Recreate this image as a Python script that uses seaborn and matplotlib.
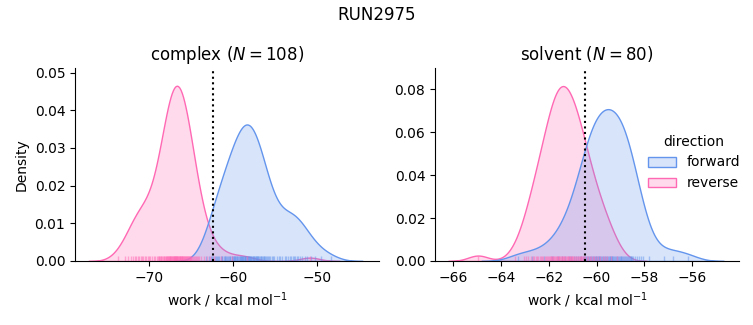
import matplotlib
matplotlib.use("Agg")
import matplotlib.pyplot as plt
import pandas as pd
import seaborn as sns

run_name = "RUN2975"
phases = ["complex", "solvent"]
directions = ["forward", "reverse"]
n_cycles = [108, 80]
estimates = [-62.4, -60.47]

complex_forward = [
    -63.2,
    -62.9, -62.7, -62.5, -62.4, -62.2, -62.05,
    -61.9, -61.8, -61.65, -61.5, -61.4, -61.3, -61.15, -61.0,
    -60.95, -60.85, -60.75, -60.65, -60.5, -60.45, -60.35, -60.2, -60.1, -60.0,
    -59.95, -59.9, -59.8, -59.75, -59.65, -59.6, -59.5, -59.4, -59.35, -59.25, -59.2, -59.1, -59.05,
    -58.98, -58.92, -58.85, -58.8, -58.72, -58.65, -58.6, -58.55, -58.48, -58.4, -58.35, -58.28,
    -58.2, -58.15, -58.08, -58.02,
    -57.98, -57.9, -57.85, -57.78, -57.7, -57.62, -57.55, -57.5, -57.42, -57.35, -57.3, -57.22,
    -57.15, -57.08, -57.02,
    -56.95, -56.85, -56.75, -56.68, -56.6, -56.5, -56.4, -56.3, -56.22, -56.12, -56.02,
    -55.9, -55.75, -55.6, -55.4, -55.25, -55.1,
    -54.85, -54.6, -54.4, -54.15,
    -53.9, -53.7, -53.5, -53.3, -53.1,
    -52.95, -52.8, -52.6, -52.45, -52.25, -52.05,
    -51.8, -51.5, -51.2,
    -50.8, -50.3,
    -49.6,
    -48.4,
]

complex_reverse = [
    -73.7,
    -72.85, -72.5, -72.15,
    -71.9, -71.75, -71.6, -71.4, -71.25, -71.05,
    -70.9, -70.75, -70.55, -70.4, -70.2, -70.05,
    -69.9, -69.7, -69.5, -69.3, -69.1,
    -68.95, -68.88, -68.8, -68.7, -68.62, -68.55, -68.45, -68.38, -68.3, -68.2, -68.12, -68.04,
    -67.98, -67.92, -67.86, -67.8, -67.75, -67.7, -67.64, -67.58, -67.52, -67.48,
    -67.42, -67.36, -67.3, -67.25, -67.2, -67.14, -67.1, -67.06, -67.03, -67.0,
    -66.97, -66.93, -66.88, -66.84, -66.8, -66.75, -66.7, -66.65, -66.6, -66.55, -66.5,
    -66.45, -66.4, -66.35, -66.3, -66.25, -66.2, -66.15, -66.1, -66.05, -66.01,
    -65.96, -65.9, -65.84, -65.78, -65.72, -65.66, -65.6, -65.54, -65.48, -65.42, -65.36,
    -65.3, -65.24, -65.18, -65.12, -65.06, -65.01,
    -64.9, -64.78, -64.65, -64.52, -64.4, -64.28, -64.15, -64.03,
    -63.85, -63.5, -63.15,
    -62.8, -62.3,
    -61.5,
    -60.1, -58.4, -50.9,
]

solvent_forward = [
    -63.3,
    -62.7,
    -62.2,
    -61.85, -61.6,
    -61.45, -61.3, -61.15, -61.05,
    -60.95, -60.86, -60.78, -60.7, -60.63, -60.57, -60.51,
    -60.48, -60.44, -60.4, -60.36, -60.32, -60.28, -60.24, -60.2, -60.16, -60.12, -60.08,
    -60.04, -60.01,
    -59.98, -59.95, -59.91, -59.88, -59.85, -59.81, -59.77, -59.73, -59.69, -59.65, -59.61,
    -59.57, -59.53,
    -59.49, -59.46, -59.43, -59.4, -59.37, -59.34, -59.31, -59.28, -59.22, -59.19, -59.15,
    -59.11, -59.07, -59.03,
    -58.99, -58.96, -58.92, -58.88, -58.85, -58.81, -58.77, -58.73, -58.69, -58.65, -58.61,
    -58.58, -58.55, -58.52,
    -58.46, -58.38, -58.3, -58.22, -58.14, -58.05,
    -57.8,
    -57.2,
    -56.8,
    -56.2,
]

solvent_reverse = [
    -64.95,
    -63.4, -63.05,
    -62.95, -62.85, -62.75, -62.65, -62.6, -62.55,
    -62.48, -62.43, -62.38, -62.32, -62.27, -62.22, -62.16, -62.11, -62.06, -62.02,
    -61.98, -61.95, -61.92, -61.89, -61.86, -61.83, -61.8, -61.77, -61.73, -61.7, -61.67,
    -61.64, -61.61, -61.58, -61.55, -61.52,
    -61.49, -61.46, -61.43, -61.41, -61.38, -61.35, -61.32, -61.29, -61.24, -61.21,
    -61.18, -61.15, -61.12, -61.09, -61.06, -61.03, -61.01,
    -60.98, -60.94, -60.9, -60.86, -60.82, -60.78, -60.75, -60.71, -60.67, -60.63, -60.59,
    -60.55, -60.51,
    -60.47, -60.41, -60.35, -60.29, -60.23, -60.17, -60.1, -60.03,
    -59.95, -59.85, -59.75, -59.65, -59.55,
    -59.4, -59.15,
]

samples = {
    ("complex", "forward"): complex_forward,
    ("complex", "reverse"): complex_reverse,
    ("solvent", "forward"): solvent_forward,
    ("solvent", "reverse"): solvent_reverse,
}
rows = []
for (phase, direction), values in samples.items():
    for v in values:
        rows.append((phase, direction, v))
df = pd.DataFrame(rows, columns=["phase", "direction", "work"])

palette = {"forward": "cornflowerblue", "reverse": "hotpink"}

g = sns.displot(
    data=df, x="work", hue="direction", col="phase", kind="kde",
    fill=True, rug=True, common_norm=True, palette=palette,
    hue_order=directions, col_order=phases,
    facet_kws=dict(sharex=False, sharey=False),
    rug_kws=dict(alpha=0.5),
    height=3, aspect=1.2,
)

fig = g.figure
fig.set_size_inches(7.53, 3.25)
xlims = [(-78.85, -42.65), (-66.75, -54.05)]
ylims = [(0, 0.0512), (0, 0.0899)]
for ax, phase, n, est, xl, yl in zip(g.axes.flat, phases, n_cycles, estimates, xlims, ylims):
    ax.axvline(est, color="black", ls=":", lw=1.5)
    ax.set_title(f"{phase} ($N = {n}$)", fontsize=12)
    ax.set_xlabel("work / kcal mol$^{-1}$")
    ax.set_xlim(*xl)
    ax.set_ylim(*yl)
g.axes.flat[0].set_ylabel("Density")
g.axes.flat[1].set_ylabel("")
fig.suptitle(run_name, fontsize=12)
fig.subplots_adjust(left=75 / 753, right=739 / 753, bottom=1 - 261 / 325,
                    top=1 - 68 / 325, wspace=56 / 304)
fig.savefig("out.png", dpi=100)
